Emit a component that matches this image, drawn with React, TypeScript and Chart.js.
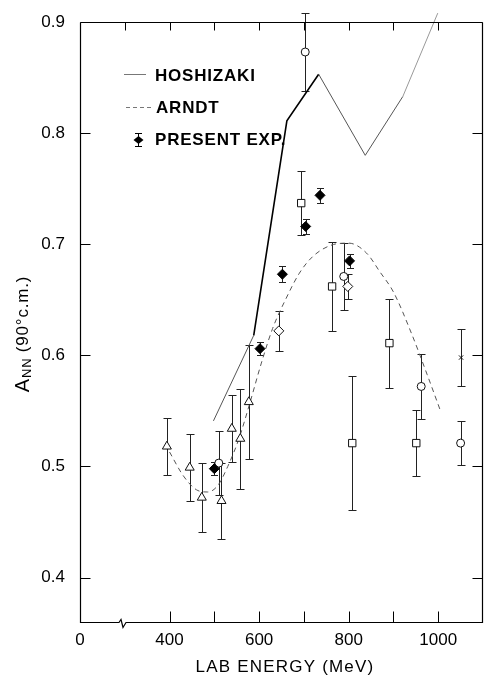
import React, { useEffect, useRef } from "react";
import { Chart, registerables } from "chart.js";

Chart.register(...registerables);

// ---- axis ticks ----
const xTickValues = [200, 300, 400, 500, 600, 700, 800, 900, 1000, 1100];
const xLabelValues = [200, 400, 600, 800, 1000];
const xLabelTexts = ["0", "400", "600", "800", "1000"];
const yTickValues = [0.4, 0.5, 0.6, 0.7, 0.8, 0.9];
const yTickLabels = ["0.4", "0.5", "0.6", "0.7", "0.8", "0.9"];
const topInnerTicks = [300, 400, 500, 600, 700, 800, 900, 1000];
const bottomInnerTicks = [400, 500, 600, 700, 800, 900, 1000];

// ---- theory curves ----
const hoshizakiE = [498, 588, 662, 733, 837, 921, 999];
const hoshizakiV = [0.541, 0.618, 0.811, 0.853, 0.78, 0.833, 0.908];

const arndtE = [400, 430, 460, 485, 508, 530, 555, 580, 605, 630, 660, 690, 720, 760, 800, 840, 870, 900, 940, 975, 1006];
const arndtV = [0.513, 0.492, 0.479, 0.477, 0.483, 0.5, 0.525, 0.558, 0.593, 0.624, 0.651, 0.674, 0.689, 0.699, 0.701, 0.692, 0.675, 0.657, 0.62, 0.583, 0.549];

// ---- data points ----
const presentE = [500, 602, 652, 704, 736, 802];
const presentV = [0.498, 0.606, 0.673, 0.716, 0.744, 0.685];
const presentErr = [0.006, 0.006, 0.007, 0.007, 0.007, 0.006];

const triangleE = [394, 445, 472, 516, 539, 558, 577];
const triangleV = [0.518, 0.499, 0.472, 0.469, 0.534, 0.525, 0.558];
const triangleErr = [0.026, 0.03, 0.031, 0.034, 0.03, 0.045, 0.051];

const circleE = [510, 703, 789, 962, 1050];
const circleV = [0.503, 0.873, 0.671, 0.572, 0.521];
const circleErr = [0.029, 0.035, 0.03, 0.029, 0.02];

const squareE = [694, 763, 808, 891, 951];
const squareV = [0.737, 0.662, 0.521, 0.611, 0.521];
const squareErr = [0.029, 0.04, 0.06, 0.04, 0.03];

const diamondE = [644, 798];
const diamondV = [0.622, 0.662];
const diamondErr = [0.018, 0.011];

const crossE = [1051];
const crossV = [0.598];
const crossErr = [0.026];

const FONT = "'Liberation Sans', Arial, sans-serif";

const pts = (e: number[], v: number[]) => e.map((x, i) => ({ x, y: v[i] }));

const errorBarPlugin = {
  id: "errorBars",
  beforeDatasetsDraw(chart: any) {
    const { ctx } = chart;
    const xs = chart.scales.x;
    const ys = chart.scales.y;
    chart.data.datasets.forEach((ds: any) => {
      if (!ds.errors) return;
      ctx.save();
      ctx.strokeStyle = "#222";
      ctx.lineWidth = 1;
      ds.data.forEach((p: any, i: number) => {
        const e = ds.errors[i];
        const px = Math.round(xs.getPixelForValue(p.x)) + 0.5;
        const y1 = Math.round(ys.getPixelForValue(p.y + e)) + 0.5;
        const y2 = Math.round(ys.getPixelForValue(p.y - e)) + 0.5;
        const c = ds.capHalf ?? 4;
        ctx.beginPath();
        ctx.moveTo(px, y1);
        ctx.lineTo(px, y2);
        ctx.moveTo(px - c, y1);
        ctx.lineTo(px + c, y1);
        ctx.moveTo(px - c, y2);
        ctx.lineTo(px + c, y2);
        ctx.stroke();
      });
      ctx.restore();
    });
  },
};

const framePlugin = {
  id: "frame",
  afterDraw(chart: any) {
    const { ctx, chartArea: a } = chart;
    const xs = chart.scales.x;
    const ys = chart.scales.y;
    ctx.save();
    ctx.strokeStyle = "#000";
    ctx.lineWidth = 1.2;
    const L = Math.round(a.left) + 0.5;
    const R = Math.round(a.right) - 0.5;
    const T = Math.round(a.top) + 0.5;
    const B = Math.round(a.bottom) + 0.5;
    const bx = Math.round(xs.getPixelForValue(292));
    ctx.beginPath();
    ctx.moveTo(L, T);
    ctx.lineTo(R, T);
    ctx.moveTo(L, T);
    ctx.lineTo(L, B);
    ctx.lineTo(bx - 2, B);
    ctx.lineTo(bx, B - 3);
    ctx.lineTo(bx + 2, B + 5);
    ctx.lineTo(bx + 5, B);
    ctx.lineTo(R, B);
    ctx.lineTo(R, T);
    ctx.stroke();
    ctx.lineWidth = 1;
    ctx.beginPath();
    topInnerTicks.forEach((v) => {
      const x = Math.round(xs.getPixelForValue(v)) + 0.5;
      ctx.moveTo(x, T);
      ctx.lineTo(x, T + 8);
    });
    bottomInnerTicks.forEach((v) => {
      const x = Math.round(xs.getPixelForValue(v)) + 0.5;
      ctx.moveTo(x, B);
      ctx.lineTo(x, B - 11);
    });
    yTickValues.forEach((v) => {
      const y = Math.round(ys.getPixelForValue(v)) + 0.5;
      ctx.moveTo(L, y);
      ctx.lineTo(L + 10, y);
      ctx.moveTo(R, y);
      ctx.lineTo(R - 10, y);
    });
    ctx.stroke();

    // legend
    ctx.fillStyle = "#000";
    ctx.textBaseline = "middle";
    ctx.textAlign = "left";
    ctx.font = `bold 17px ${FONT}`;
    (ctx as any).letterSpacing = "0.8px";
    ctx.strokeStyle = "#777";
    ctx.beginPath();
    ctx.moveTo(124, 74.5);
    ctx.lineTo(146, 74.5);
    ctx.stroke();
    ctx.fillText("HOSHIZAKI", 155, 76);
    ctx.setLineDash([4, 3]);
    ctx.beginPath();
    ctx.moveTo(126, 107.5);
    ctx.lineTo(152, 107.5);
    ctx.stroke();
    ctx.setLineDash([]);
    ctx.fillText("ARNDT", 156, 108);
    ctx.strokeStyle = "#000";
    ctx.beginPath();
    ctx.moveTo(138.5, 133);
    ctx.lineTo(138.5, 147);
    ctx.moveTo(135, 133.5);
    ctx.lineTo(142, 133.5);
    ctx.moveTo(135, 146.5);
    ctx.lineTo(142, 146.5);
    ctx.stroke();
    ctx.beginPath();
    ctx.moveTo(138.5 - 5, 140);
    ctx.lineTo(138.5, 136);
    ctx.lineTo(138.5 + 5, 140);
    ctx.lineTo(138.5, 144);
    ctx.closePath();
    ctx.fill();
    ctx.fillText("PRESENT EXP.", 155, 140);

    // x title
    ctx.textAlign = "center";
    ctx.font = `17px ${FONT}`;
    (ctx as any).letterSpacing = "1.2px";
    ctx.fillText("LAB ENERGY (MeV)", 285, 667);

    // y title (rotated)
    ctx.save();
    ctx.translate(23, 334);
    ctx.rotate(-Math.PI / 2);
    ctx.textAlign = "left";
    (ctx as any).letterSpacing = "0.8px";
    const partA = "A";
    const partSub = "NN";
    const partRest = " (90°c.m.)";
    ctx.font = `20px ${FONT}`;
    const wA = ctx.measureText(partA).width;
    ctx.font = `13px ${FONT}`;
    const wS = ctx.measureText(partSub).width;
    ctx.font = `17px ${FONT}`;
    const wR = ctx.measureText(partRest).width;
    let x0 = -(wA + wS + wR) / 2;
    ctx.font = `20px ${FONT}`;
    ctx.fillText(partA, x0, 0);
    x0 += wA;
    ctx.font = `13px ${FONT}`;
    ctx.fillText(partSub, x0, 4);
    x0 += wS;
    ctx.font = `17px ${FONT}`;
    ctx.fillText(partRest, x0, 0);
    ctx.restore();
    (ctx as any).letterSpacing = "0px";
    ctx.restore();
  },
};

const zeroPad = (s: any) => {
  s.paddingLeft = 0;
  s.paddingRight = 0;
  s.paddingTop = 0;
  s.paddingBottom = 0;
};

export default function App() {
  const ref = useRef<HTMLCanvasElement>(null);
  useEffect(() => {
    document.body.style.margin = "0";
    const canvas = ref.current!;
    const markerBase = {
      type: "scatter" as const,
      showLine: false,
      borderColor: "#111",
      borderWidth: 1,
      backgroundColor: "#fff",
    };
    const chart = new Chart(canvas, {
      type: "scatter",
      data: {
        datasets: [
          { ...markerBase, label: "present", data: pts(presentE, presentV), errors: presentErr, capHalf: 3.5, pointStyle: "rectRot", pointRadius: 5, backgroundColor: "#000", borderColor: "#000" } as any,
          { ...markerBase, label: "triangles", data: pts(triangleE, triangleV), errors: triangleErr, pointStyle: "triangle", pointRadius: 5.2 } as any,
          { ...markerBase, label: "circles", data: pts(circleE, circleV), errors: circleErr, pointStyle: "circle", pointRadius: 4 } as any,
          { ...markerBase, label: "squares", data: pts(squareE, squareV), errors: squareErr, pointStyle: "rect", pointRadius: 5.2 } as any,
          { ...markerBase, label: "diamonds", data: pts(diamondE, diamondV), errors: diamondErr, pointStyle: "rectRot", pointRadius: 5 } as any,
          { ...markerBase, label: "cross", data: pts(crossE, crossV), errors: crossErr, pointStyle: "crossRot", pointRadius: 3 } as any,
          {
            type: "line",
            label: "HOSHIZAKI",
            data: pts(hoshizakiE, hoshizakiV),
            borderColor: "#666",
            borderWidth: 1,
            pointRadius: 0,
            tension: 0,
            clip: false,
            segment: {
              borderColor: (c: any) => (c.p0DataIndex === 1 || c.p0DataIndex === 2 ? "#000" : c.p0DataIndex === 5 ? "#999" : "#555"),
              borderWidth: (c: any) => (c.p0DataIndex === 1 || c.p0DataIndex === 2 ? 1.6 : 1),
            },
          } as any,
          {
            type: "line",
            label: "ARNDT",
            data: pts(arndtE, arndtV),
            borderColor: "#555",
            borderWidth: 1,
            borderDash: [5, 4],
            pointRadius: 0,
            cubicInterpolationMode: "monotone",
          } as any,
        ],
      },
      options: {
        animation: false,
        responsive: false,
        devicePixelRatio: 1,
        layout: { autoPadding: false, padding: { top: 22, right: 1, left: 0, bottom: 0 } },
        plugins: { legend: { display: false }, tooltip: { enabled: false } },
        scales: {
          x: {
            type: "linear",
            min: 200,
            max: 1100,
            afterBuildTicks: (s: any) => {
              s.ticks = xTickValues.map((v) => ({ value: v }));
            },
            afterFit: (s: any) => {
              s.height = 53;
              zeroPad(s);
            },
            ticks: {
              autoSkip: false,
              maxRotation: 0,
              padding: 8,
              color: "#000",
              font: { family: FONT, size: 17 },
              callback: (v: any) => {
                const i = xLabelValues.indexOf(Number(v));
                return i >= 0 ? xLabelTexts[i] : "";
              },
            },
            grid: { display: false, drawTicks: false },
            border: { display: false },
          },
          y: {
            type: "linear",
            min: 0.36,
            max: 0.9,
            afterBuildTicks: (s: any) => {
              s.ticks = yTickValues.map((v) => ({ value: v }));
            },
            afterFit: (s: any) => {
              s.width = 80;
              zeroPad(s);
            },
            ticks: {
              padding: 15,
              color: "#000",
              font: { family: FONT, size: 17 },
              callback: (v: any) => {
                const i = yTickValues.findIndex((t) => Math.abs(t - Number(v)) < 1e-6);
                return i >= 0 ? yTickLabels[i] : "";
              },
            },
            grid: { display: false, drawTicks: false },
            border: { display: false },
          },
        },
      } as any,
      plugins: [errorBarPlugin, framePlugin],
    });
    return () => chart.destroy();
  }, []);
  return <canvas ref={ref} width={484} height={675} style={{ display: "block" }} />;
}
